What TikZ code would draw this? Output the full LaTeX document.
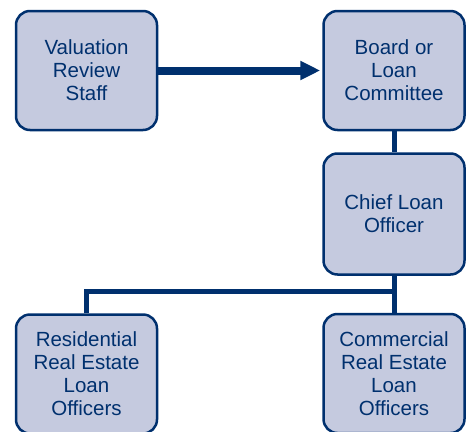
\documentclass[tikz,border=0pt]{standalone}
\usepackage{fontspec}
\setmainfont{Liberation Sans}
\usetikzlibrary{positioning,arrows.meta}
\definecolor{navy}{RGB}{0,48,110}
\definecolor{boxfill}{RGB}{197,202,223}
\begin{document}
\begin{tikzpicture}[
    unit/.style={draw=navy,fill=boxfill,line width=2.5pt,rounded corners=14pt,
      minimum width=141pt,minimum height=119pt,align=center,text=navy,
      font=\fontsize{20.5pt}{23pt}\selectfont,inner sep=0pt},
    link/.style={draw=navy,line width=5pt}
  ]
    \useasboundingbox (0,0) rectangle (468pt,-431pt);
    % top row
    \node[unit] (valuation) at (86.5pt,-70.5pt) {Valuation\\Review\\Staff};
    \node[unit,right=164pt of valuation] (board) {Board or\\Loan\\Committee};
    % chief
    \node[unit,below=21pt of board,minimum height=121pt] (chief) {Chief Loan\\Officer};
    % officers
    \node[unit,below=182pt of valuation] (residential) {Residential\\Real Estate\\Loan\\Officers};
    \node[unit,below=37pt of chief] (commercial) {Commercial\\Real Estate\\Loan\\Officers};
    % report line
    \draw[navy,line width=8pt,shorten >=2pt,-{Triangle[length=20pt,width=18pt]}] (valuation) -- (board);
    % hierarchy
    \draw[link] (board) -- (chief);
    \draw[link] (chief) -- (commercial);
    \draw[link] (residential.north) -- ++(0,22pt) -| (chief.south);
\end{tikzpicture}
\end{document}
